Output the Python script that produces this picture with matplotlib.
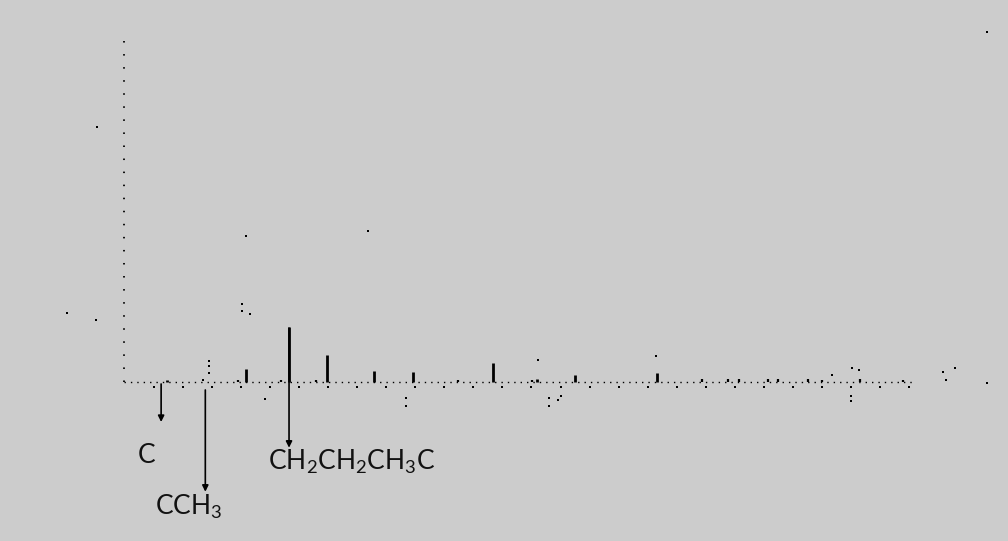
import matplotlib.pyplot as plt
import numpy as np

plt.rcParams["font.family"] = ["Lato", "DejaVu Sans"]
plt.rcParams["lines.scale_dashes"] = False
plt.rcParams["mathtext.fontset"] = "custom"
plt.rcParams["mathtext.rm"] = "Lato"

# main peaks (m/z, relative intensity)
peak_mz  = [14.5, 41.7, 56.6, 69.7, 85.8, 99.2, 126.8, 141.9, 155.0, 183.2]
peak_int = [3.6, 23.6, 100.0, 49.0, 20.0, 18.2, 34.5, 5.5, 12.7, 16.4]

# small peaks near the baseline
small_mz  = [39.0, 53.8, 65.9, 114.6, 140.2, 198.7, 207.6, 211.4, 221.4, 224.8,
             235.1, 239.9, 253.0, 267.8]
small_int = [3.6, 3.6, 3.6, 3.6, 3.6, 5.5, 5.5, 5.5, 5.5, 5.5,
             5.5, 3.6, 5.5, 3.6]

# stray specks
stray_mz  = [-9.6, -19.8, -9.8, 41.8, 83.8, 40.3, 40.3, 43.2, 296.7, 96.8, 96.8,
             146.0, 146.0, 149.1, 150.0, 142.1, 182.8, 243.3, 250.2, 252.7, 249.9,
             249.9, 281.6, 285.7, 282.5, 296.6, 48.3, 29.1, 29.1, 29.1, 27.0]
stray_int = [463.6, 125.5, 113.6, 265.5, 274.5, 141.8, 129.1, 123.6, 636.4, -28.5, -43.6,
             -28.5, -43.6, -32.7, -25.5, 40.0, 47.8, 12.7, 25.5, 21.8, -25.5,
             -34.5, 18.7, 25.5, 3.6, -1.8, -30.9, 38.2, 29.1, 16.4, 3.6]

# fragment labels and the peaks they point from
frag_labels = ["C", "CCH$_3$", "CH$_2$CH$_2$CH$_3$C"]
frag_mz     = [12.6, 27.8, 56.6]

# pixel scale of the original drawing
X0, XS = 124.5, 2.907   # px of m/z 0, px per m/z unit
Y0, YS = 382.0, 0.55    # px of baseline, px per intensity unit
W, H = 1008, 541

fig = plt.figure(figsize=(W / 100, H / 100), dpi=100)
fig.patch.set_facecolor("#cccccc")
ax = fig.add_axes([0, 0, 1, 1])
ax.set_facecolor("#cccccc")
ax.set_xlim(-X0 / XS, (W - X0) / XS)
ax.set_ylim((Y0 - H) / YS, Y0 / YS)
ax.axis("off")

# dotted axes
ax.plot([0, 0], [0, (Y0 - 32) / YS], color="black", lw=1.3, dashes=(1.1, 8.3))
ax.plot([0, 272], [0, 0], color="black", lw=1.0, dashes=(1.0, 3.6))
ticks = np.arange(10, 280, 10)
ax.scatter(ticks, np.full(len(ticks), -9.0), s=2.5, marker="s", color="black", lw=0)

# peaks
ax.vlines(peak_mz, 0, peak_int, color="black", lw=2.0)
ax.vlines(small_mz, 0, small_int, color="black", lw=1.6)
ax.scatter(stray_mz, stray_int, s=2.5, marker="s", color="black", lw=0)

# fragment arrows
arrow_top = [-3.6, -14.5, 98.0]
arrow_end = [-72.7, -199.5, -119.5]
for x, y0, y1 in zip(frag_mz, arrow_top, arrow_end):
    ax.annotate("", xy=(x, y1), xytext=(x, y0),
                arrowprops=dict(arrowstyle="-|>", color="black", lw=1.2,
                                mutation_scale=9, shrinkA=0, shrinkB=0))

txt = dict(fontsize=19, va="baseline", color="#111111")
ax.text(7.6, -147, frag_labels[0], ha="center", **txt)
ax.text(10.5, -241.8, frag_labels[1], ha="left", **txt)
ax.text(49.4, -160, frag_labels[2], ha="left", **txt)

plt.savefig("out.png", dpi=100, facecolor=fig.get_facecolor())
